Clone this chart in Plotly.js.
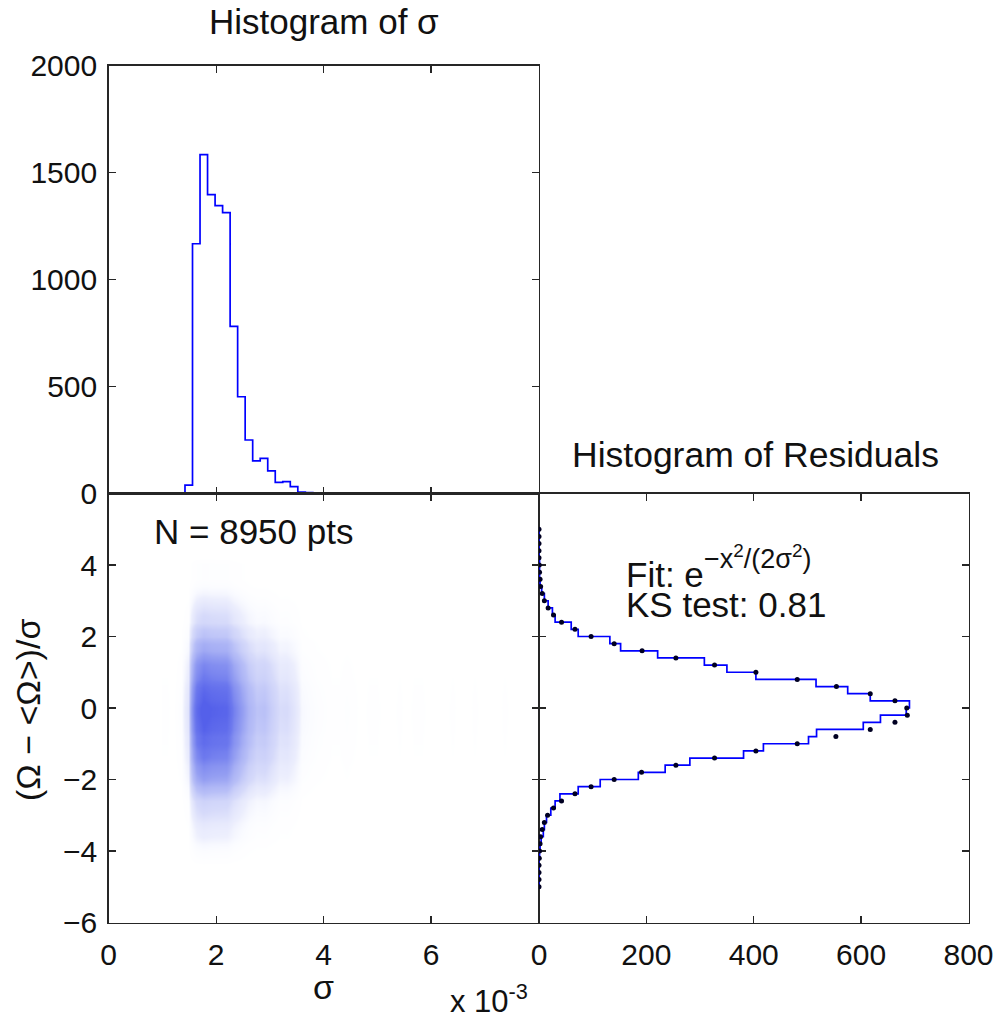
<!DOCTYPE html>
<html><head><meta charset="utf-8">
<script src="https://cdn.plot.ly/plotly-3.0.1.min.js"></script>
<style>html,body{margin:0;padding:0;background:#fff}#chart{width:1003px;height:1018px}</style>
</head><body><div id="chart"></div>
<script>
// ---- Data ----
// Histogram of sigma (sigma in units of 10^-3)
const sigmaBinStart = 1.0;
const sigmaBinWidth = 0.14;
const sigmaCounts = [1,0,3,40,1168,1584,1398,1346,1313,782,
                     453,251,153,165,107,53,56,33,8,5,
                     3,2,1,1,2,1,0,1,1,0,
                     0,1,0,1,1,0,0,0,1,0,
                     0,1,0,0,0,1,0,0,0,1];
const totalPoints = 8950;

// Histogram of residuals: bin centres (from +5 down to -5)
const residualCenters = [5.0,4.8,4.6,4.4,4.2,4.0,3.8,3.6,3.4,3.2,3.0,2.8,2.6,2.4,2.2,2.0,1.8,1.6,1.4,1.2,1.0,0.8,0.6,0.4,0.2,0.0,
  -0.2,-0.4,-0.6,-0.8,-1.0,-1.2,-1.4,-1.6,-1.8,-2.0,-2.2,-2.4,-2.6,-2.8,-3.0,-3.2,-3.4,-3.6,-3.8,-4.0,-4.2,-4.4,-4.6,-4.8,-5.0];
const residualCounts = [0,0,0,0,0,1,1,1,2,5,10,17,25,30,60,73,132,152,221,308,350,404,516,575,617,690,
  684,636,604,517,502,418,381,281,235,185,114,73,39,30,22,14,10,8,4,2,1,0,0,0,0];
// Gaussian fit evaluated at the bin centres
const fitValues = [0,0,0,0,0,0.5,1,2,3,6,10,17,27,42,67,97,140,192,255,327,404,481,554,617,663,685,
  686,663,617,553,481,404,327,255,191,140,97,67,42,27,16,10,6,3,2,1,0.5,0,0,0,0];

// Axis ticks
const sigmaTicks = [0,2,4,6];
const countTicksTop = [0,500,1000,1500,2000];
const residualTicks = [-6,-4,-2,0,2,4];
const residCountTicks = [0,200,400,600,800];

// ---- Derived structures ----
const sigmaEdges = sigmaCounts.map((_, i) => +(sigmaBinStart + i * sigmaBinWidth).toFixed(4));
sigmaEdges.push(+(sigmaBinStart + sigmaCounts.length * sigmaBinWidth).toFixed(4));
const sigmaCenters = sigmaCounts.map((_, i) => sigmaBinStart + (i + 0.5) * sigmaBinWidth);
const histX = [sigmaEdges[0]].concat(sigmaEdges);
const histY = [0].concat(sigmaCounts, [sigmaCounts[sigmaCounts.length - 1]]);

// density of the point cloud built from the two marginal histograms
const cloudZ = residualCenters.map((r, j) => sigmaCounts.map(c => c * residualCounts[j] / totalPoints));

const W = 1003, H = 1018;
const px = x => x / W, py = y => 1 - y / H;
const FONT = 'Liberation Sans, Arial, Helvetica, sans-serif';

const axisCommon = {
  showline: true, linecolor: '#262626', linewidth: 1.5, mirror: 'ticks',
  ticks: 'inside', ticklen: 7, tickwidth: 1.3, tickcolor: '#262626',
  showgrid: false, zeroline: false, fixedrange: true,
  tickfont: {family: FONT, size: 30, color: '#111'}
};

const traces = [
  { // top histogram
    type: 'scatter', mode: 'lines', x: histX, y: histY, xaxis: 'x', yaxis: 'y',
    line: {color: '#0000ff', width: 1.7, shape: 'hv'}, hoverinfo: 'skip'
  },
  { // point cloud
    type: 'heatmap', x: sigmaCenters, y: residualCenters, z: cloudZ, xaxis: 'x2', yaxis: 'y2',
    zsmooth: 'best', showscale: false, zmin: 0, zmax: 110, hoverinfo: 'skip',
    colorscale: [[0,'rgb(255,255,255)'],[0.004,'rgb(250,251,255)'],[0.012,'rgb(236,238,253)'],[0.04,'rgb(214,218,250)'],
                 [0.12,'rgb(184,191,247)'],[0.3,'rgb(148,158,242)'],[0.6,'rgb(110,122,238)'],[1,'rgb(84,96,234)']]
  },
  { // residual histogram (stairs)
    type: 'scatter', mode: 'lines', x: residualCounts, y: residualCenters, xaxis: 'x3', yaxis: 'y3',
    line: {color: '#0000ff', width: 1.7, shape: 'hv'}, hoverinfo: 'skip'
  },
  { // fit points
    type: 'scatter', mode: 'markers', x: fitValues, y: residualCenters, xaxis: 'x3', yaxis: 'y3',
    marker: {color: '#000022', size: 5}, hoverinfo: 'skip'
  }
];

const xd1 = [px(108.7), px(538.5)];
const xd3 = [px(539), px(968.5)];
const ydTop = [py(493.7), py(65.7)];
const ydBot = [py(922.5), py(493.5)];

const layout = {
  width: W, height: H, margin: {l: 0, r: 0, t: 0, b: 0},
  paper_bgcolor: '#fff', plot_bgcolor: 'rgba(0,0,0,0)', showlegend: false, hovermode: false,
  font: {family: FONT, color: '#111'},
  xaxis: Object.assign({}, axisCommon, {domain: xd1, anchor: 'y', range: [0, 8], tickvals: sigmaTicks.concat([8]), showticklabels: false, layer: 'below traces'}),
  yaxis: Object.assign({}, axisCommon, {domain: ydTop, anchor: 'x', range: [0, 2000], tickvals: countTicksTop, ticklabelstandoff: 4}),
  xaxis2: Object.assign({}, axisCommon, {domain: xd1, anchor: 'y2', range: [0, 8], tickvals: sigmaTicks.concat([8]), ticktext: sigmaTicks.map(String).concat(['']), ticklabelstandoff: 5}),
  yaxis2: Object.assign({}, axisCommon, {domain: ydBot, anchor: 'x2', range: [-6, 6], tickvals: residualTicks, ticklabelstandoff: 4}),
  xaxis3: Object.assign({}, axisCommon, {domain: xd3, anchor: 'y3', range: [0, 800], tickvals: residCountTicks, ticklabelstandoff: 5}),
  yaxis3: Object.assign({}, axisCommon, {domain: ydBot, anchor: 'x3', range: [-6, 6], tickvals: residualTicks, showticklabels: false, layer: 'below traces'}),
  annotations: [
    {text: 'Histogram of σ', xref: 'paper', yref: 'paper', x: px(324), y: py(22), xanchor: 'center', yanchor: 'middle', showarrow: false, font: {size: 35}},
    {text: 'Histogram of Residuals', xref: 'paper', yref: 'paper', x: px(755), y: py(455), xanchor: 'center', yanchor: 'middle', showarrow: false, font: {size: 35.5}},
    {text: 'N = 8950 pts', xref: 'paper', yref: 'paper', x: px(152), y: py(531), xanchor: 'left', yanchor: 'middle', showarrow: false, font: {size: 35}},
    {text: 'Fit: e', xref: 'paper', yref: 'paper', x: px(624), y: py(574), xanchor: 'left', yanchor: 'middle', showarrow: false, font: {size: 35}},
    {text: '−x<sup>2</sup>/(2σ<sup>2</sup>)', xref: 'paper', yref: 'paper', x: px(702), y: py(557), xanchor: 'left', yanchor: 'middle', showarrow: false, font: {size: 27}},
    {text: 'KS test: 0.81', xref: 'paper', yref: 'paper', x: px(624), y: py(604), xanchor: 'left', yanchor: 'middle', showarrow: false, font: {size: 35}},
    {text: 'σ', xref: 'paper', yref: 'paper', x: px(323), y: py(987), xanchor: 'center', yanchor: 'middle', showarrow: false, font: {size: 34}},
    {text: 'x 10<sup>-3</sup>', xref: 'paper', yref: 'paper', x: px(448), y: py(999), xanchor: 'left', yanchor: 'middle', showarrow: false, font: {size: 31}},
    {text: '(Ω − &lt;Ω&gt;)/σ', xref: 'paper', yref: 'paper', x: px(28), y: py(710), xanchor: 'center', yanchor: 'middle', textangle: -90, showarrow: false, font: {size: 34}}
  ]
};

Plotly.newPlot('chart', traces, layout, {staticPlot: true, displayModeBar: false});
</script>
</body></html>
